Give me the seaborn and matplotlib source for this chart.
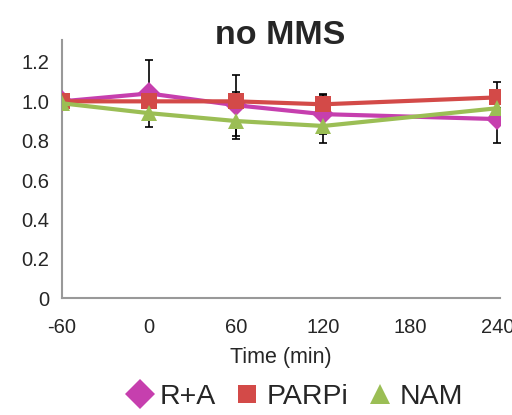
import numpy as np
import pandas as pd
import matplotlib
matplotlib.use('Agg')
import matplotlib.pyplot as plt
import seaborn as sns
from matplotlib.lines import Line2D

# --------------------------------
# data
# --------------------------------
time_min = [-60, 0, 60, 120, 240]
groups = ['R+A', 'PARPi', 'NAM']

ra_mean = [1.00, 1.04, 0.98, 0.935, 0.91]
ra_err = [0.0, 0.17, 0.155, 0.10, 0.12]
parpi_mean = [1.00, 1.00, 1.00, 0.985, 1.02]
parpi_err = [0.0, 0.0, 0.045, 0.045, 0.08]
nam_mean = [0.99, 0.94, 0.90, 0.875, 0.965]
nam_err = [0.0, 0.0, 0.09, 0.085, 0.0]

colors = {'R+A': '#C63FAE', 'PARPi': '#D34A48', 'NAM': '#9BBE55'}
markers = {'R+A': 'D', 'PARPi': 's', 'NAM': '^'}

df = pd.DataFrame({
    'Time': time_min * 3,
    'Value': ra_mean + parpi_mean + nam_mean,
    'Err': ra_err + parpi_err + nam_err,
    'Group': [g for g in groups for _ in time_min],
})

sns.set_style('white')
plt.rcParams['font.family'] = ['Liberation Sans', 'DejaVu Sans']
plt.rcParams['axes.unicode_minus'] = False

fig = plt.figure(figsize=(5.12, 4.15), dpi=100)
ax = fig.add_axes([0.121, 0.281, 0.856, 0.622])

# error bars behind the lines
for g in groups:
    sub = df[df['Group'] == g]
    ax.errorbar(sub['Time'], sub['Value'], yerr=sub['Err'], fmt='none',
                ecolor='black', elinewidth=1.2, capsize=3, capthick=1.2, zorder=1)

sns.lineplot(data=df, x='Time', y='Value', hue='Group', style='Group',
             hue_order=groups, palette=colors, markers=markers, dashes=False,
             markersize=11, markeredgewidth=0, linewidth=3, legend=False,
             ax=ax, zorder=3)

ax.set_xlim(-60, 242)
ax.set_ylim(0, 1.31)
ax.set_xticks([-60, 0, 60, 120, 180, 240])
ax.set_yticks([0, 0.2, 0.4, 0.6, 0.8, 1.0, 1.2])
ax.set_yticklabels(['0', '0.2', '0.4', '0.6', '0.8', '1.0', '1.2'])

for s in ['top', 'right']:
    ax.spines[s].set_visible(False)
for s in ['left', 'bottom']:
    ax.spines[s].set_color('#999999')
    ax.spines[s].set_linewidth(1.5)

ax.tick_params(axis='x', direction='in', length=3, width=1, color='#999999',
               labelsize=14.5, pad=14)
ax.tick_params(axis='y', direction='out', length=3, width=1, color='#999999',
               labelsize=14.5, pad=6)

ax.set_xlabel('Time (min)', fontsize=15.5, labelpad=7)
ax.set_ylabel('')
fig.text(0.548, 1 - 36 / 415, 'no MMS', fontsize=24.5, fontweight='bold',
         ha='center', va='center')

handles = [Line2D([], [], linestyle='none', marker=markers[g], color=colors[g],
                  markersize=15 if g != 'PARPi' else 13, markeredgewidth=0)
           for g in groups]
fig.legend(handles, groups, loc='center', bbox_to_anchor=(0.578, 0.043), ncol=3,
           frameon=False, fontsize=20.5, handlelength=0.8, handletextpad=0.3,
           columnspacing=0.7)

fig.savefig('out.png', dpi=100)
